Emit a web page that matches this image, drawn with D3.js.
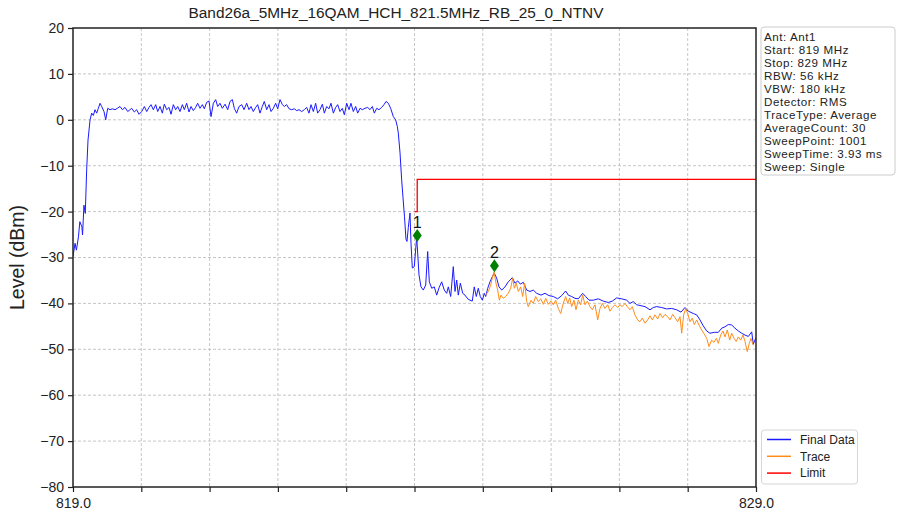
<!DOCTYPE html>
<html><head><meta charset="utf-8">
<script src="https://cdn.jsdelivr.net/npm/d3@7"></script>
<style>body{margin:0;background:#fff;}svg{display:block;font-family:"Liberation Sans",Arial,sans-serif;}</style>
</head><body>
<svg id="c" width="897" height="516"></svg>
<script>
const title = "Band26a_5MHz_16QAM_HCH_821.5MHz_RB_25_0_NTNV";
const yTicks = [20,10,0,-10,-20,-30,-40,-50,-60,-70,-80];
const xTicks = [819,820,821,822,823,824,825,826,827,828,829];
const xTickLabels = {819:"819.0", 829:"829.0"};
const infoLines = ["Ant: Ant1","Start: 819 MHz","Stop: 829 MHz","RBW: 56 kHz","VBW: 180 kHz","Detector: RMS","TraceType: Average","AverageCount: 30","SweepPoint: 1001","SweepTime: 3.93 ms","Sweep: Single"];
const seriesNames = ["Final Data","Trace","Limit"];
const seriesColors = ["#1a1aff","#ff8c1a","#ff0000"];

// Final Data: [MHz, dBm]
const finalData = [
[819.00,-29.8],[819.03,-26.9],[819.05,-28.4],[819.08,-25.5],[819.10,-22.2],[819.13,-23.3],[819.14,-25.1],[819.16,-18.6],[819.18,-20.4],[819.20,-10.9],[819.22,-4.4],[819.25,0],
[819.274,1.45],[819.298,0.94],[819.322,2.2],[819.347,1.45],[819.371,2.5],[819.396,3.6],[819.420,2.9],[819.454,1.8],[819.479,0],[819.508,2.5],[819.542,2.2],[819.576,2.4],[819.615,2.2],[819.649,2.5],[819.688,2.9],[819.723,2.2],[819.762,2.7],[819.801,1.8],[819.835,2.2],[819.859,2.5],[819.898,1.7],[819.932,2.2],[819.967,1.2],[820.006,1.8],[820.045,2.9],[820.079,1.8],[820.113,2.7],[820.142,3.3],[820.176,2.2],[820.211,3.3],[820.240,1.8],[820.274,2.9],[820.308,1.45],[820.337,3.4],[820.372,2.2],[820.406,2.7],[820.435,1.2],[820.469,3.3],[820.503,2.2],[820.533,2.9],[820.567,1.8],[820.601,3.3],[820.630,2.2],[820.664,3.6],[820.699,1.7],[820.728,2.9],[820.762,2.0],[820.796,2.7],[820.825,3.6],[820.860,2.5],[820.894,3.3],[820.923,2.4],[820.957,3.8],[820.991,4.1],[821.021,0.7],[821.055,3.6],[821.089,4.4],[821.118,2.9],[821.152,3.6],[821.187,2.5],[821.226,3.4],[821.265,2.2],[821.299,4.0],[821.333,4.4],[821.362,2.5],[821.396,1.45],[821.431,2.9],[821.470,3.3],[821.504,2.2],[821.543,3.6],[821.577,2.2],[821.606,2.9],[821.640,1.8],[821.675,2.7],[821.704,3.3],[821.738,1.45],[821.772,2.9],[821.801,4.0],[821.836,2.2],[821.870,3.3],[821.899,1.8],[821.933,2.5],[821.967,3.6],[821.997,2.4],[822.031,4.4],[822.065,3.3],[822.094,2.9],[822.128,3.3],[822.163,2.4],[822.202,2.2],[822.241,2.4],[822.275,2.0],[822.309,2.2],[822.348,1.8],[822.387,2.2],[822.421,2.7],[822.455,1.45],[822.485,3.3],[822.519,1.8],[822.553,3.6],[822.582,1.45],[822.616,2.2],[822.651,3.4],[822.680,1.45],[822.714,2.9],[822.748,2.4],[822.777,3.6],[822.812,1.45],[822.846,2.7],[822.875,3.3],[822.909,1.8],[822.943,2.5],[822.973,1.1],[823.007,3.6],[823.041,2.2],[823.070,3.6],[823.104,1.8],[823.139,2.9],[823.168,1.45],[823.202,2.5],[823.236,2.2],[823.275,2.5],[823.314,2.7],[823.348,2.2],[823.383,2.9],[823.412,1.45],[823.446,2.5],[823.480,2.2],[823.519,2.7],[823.553,3.3],[823.583,4.0],[823.617,3.6],[823.651,2.5],[823.690,0.7],[823.724,0],[823.749,-1.5],
[823.763,-2.9],[823.788,-7.2],[823.812,-13.1],[823.832,-17],[823.853,-21],[823.875,-26],[823.890,-26.5],[823.909,-23.5],[823.934,-20.3],[823.949,-27],[823.968,-32.3],[823.997,-32],[824.032,-25.5],[824.066,-33.8],[824.095,-36.4],[824.129,-37.1],[824.164,-36],[824.193,-28.7],[824.217,-35.3],[824.252,-36.7],[824.290,-36.4],[824.325,-38.2],[824.359,-36.6],[824.398,-35.3],[824.436,-37.1],[824.471,-37.8],[824.495,-36.4],[824.530,-38.5],[824.568,-32],[824.593,-37.4],[824.618,-34.9],[824.641,-38.2],[824.671,-35.6],[824.706,-37.8],[824.739,-38.2],[824.779,-39],[824.813,-39.3],[824.846,-39.5],[824.875,-36.4],[824.905,-38.5],[824.934,-36.7],[824.963,-38.5],[824.993,-39.3],[825.022,-37.8],[825.043,-38.5],[825.072,-36.7],[825.105,-35.3],[825.139,-34.2],[825.168,-33.4],[825.203,-34.5],[825.237,-36.4],[825.277,-37.1],[825.325,-36.4],[825.373,-35.3],[825.432,-34.4],[825.471,-35.6],[825.511,-35.1],[825.549,-35.8],[825.593,-35.4],[825.643,-37.1],[825.691,-37.4],[825.739,-37.1],[825.789,-37.8],[825.852,-38.2],[825.911,-37.8],[825.969,-38.3],[826.032,-38.5],[826.096,-39],[826.155,-38.3],[826.213,-37.3],[826.252,-38.2],[826.301,-38.5],[826.350,-38.9],[826.398,-39],[826.462,-37.8],[826.506,-38.5],[826.555,-39.3],[826.618,-39.3],[826.691,-39],[826.764,-39.5],[826.837,-39.8],[826.896,-39.5],[826.960,-38.8],[827.033,-39],[827.107,-39.3],[827.155,-40],[827.203,-39.6],[827.253,-40.3],[827.316,-40.5],[827.375,-40.7],[827.448,-41.4],[827.496,-40.9],[827.546,-40.7],[827.619,-40.9],[827.692,-41.2],[827.766,-41.1],[827.839,-41.4],[827.902,-41.9],[827.960,-40.9],[828.009,-41.7],[828.082,-42.2],[828.132,-42.5],[828.180,-43.6],[828.228,-44.9],[828.278,-46],[828.326,-46.5],[828.389,-46.3],[828.448,-46.3],[828.498,-45.4],[828.546,-45.1],[828.594,-44.6],[828.644,-44.7],[828.692,-45.4],[828.741,-46],[828.790,-46.5],[828.839,-46.9],[828.887,-47.2],[828.937,-46.2],[828.960,-48.9],[828.995,-47.6]
];

// Trace: [MHz, dBm]
const traceData = [
[825.043,-38.2],[825.081,-37.4],[825.116,-36],[825.139,-34.5],[825.164,-33.1],[825.193,-35.6],[825.218,-37.1],[825.242,-39.3],[825.266,-38.2],[825.300,-38.9],[825.335,-38.5],[825.373,-37.8],[825.408,-36.7],[825.438,-34.5],[825.461,-36.7],[825.490,-35.6],[825.520,-37.4],[825.555,-36.4],[825.584,-38.5],[825.613,-35.6],[825.643,-39.6],[825.666,-40.7],[825.706,-39.3],[825.739,-40],[825.774,-38.5],[825.813,-39.6],[825.848,-39],[825.886,-40.2],[825.921,-38.9],[825.959,-40.2],[825.998,-39.5],[826.032,-40.3],[826.067,-39.3],[826.105,-41.1],[826.140,-42.2],[826.178,-40],[826.213,-38.5],[826.243,-40],[826.272,-38.8],[826.301,-40.7],[826.335,-39.3],[826.364,-41.4],[826.398,-39.3],[826.433,-40.3],[826.462,-38.2],[826.496,-40.3],[826.530,-39.5],[826.569,-40.7],[826.603,-41.4],[826.643,-40.3],[826.682,-43.6],[826.716,-41.1],[826.750,-40],[826.789,-41.1],[826.829,-40.3],[826.862,-41.7],[826.896,-40.9],[826.935,-40.3],[826.975,-40.9],[827.009,-40.3],[827.042,-40.7],[827.082,-40],[827.115,-40.7],[827.155,-41.4],[827.189,-40.7],[827.228,-42.5],[827.268,-43.6],[827.301,-44],[827.335,-43.2],[827.375,-44.3],[827.414,-43.6],[827.448,-42.7],[827.482,-43.6],[827.521,-42.5],[827.561,-43.4],[827.594,-42.2],[827.634,-43.1],[827.668,-42.4],[827.707,-42.9],[827.741,-43.6],[827.780,-42.4],[827.814,-43.1],[827.853,-44],[827.887,-42.9],[827.912,-46.5],[827.941,-42.5],[827.970,-41.1],[828.000,-42.2],[828.034,-44],[828.067,-43.2],[828.097,-44.6],[828.132,-43.6],[828.165,-44.7],[828.205,-45.8],[828.243,-46.7],[828.278,-47.6],[828.312,-49.4],[828.351,-48],[828.385,-48.5],[828.419,-47.6],[828.448,-48.7],[828.483,-46.9],[828.517,-46],[828.546,-47.3],[828.580,-45.8],[828.615,-48],[828.644,-46.5],[828.678,-47.6],[828.711,-48.3],[828.741,-47.3],[828.776,-48],[828.810,-46.9],[828.839,-48.3],[828.872,-50.5],[828.902,-48.7],[828.926,-47.6],[828.960,-49.1]
];

// Limit: [MHz, dBm]
const limitData = [[824.00,-20],[824.04,-20],[824.04,-13],[829.00,-13]];

// Markers
const markerLabels = ["1","2"];
const markerFreqs = [824.04, 825.17];
const markerLevels = [-25.2, -31.8];

const svg = d3.select("#c");
const L=73, R=756, T=28, B=487;
const x = d3.scaleLinear().domain([819,829]).range([L,R]);
const y = d3.scaleLinear().domain([-80,20]).range([B,T]);

// grid
const grid = svg.append("g").attr("stroke","#b8b8b8").attr("stroke-width",0.8).attr("stroke-dasharray","3,2");
xTicks.slice(1,-1).forEach(t=>grid.append("line").attr("x1",x(t)).attr("x2",x(t)).attr("y1",T).attr("y2",B));
yTicks.slice(1,-1).forEach(t=>grid.append("line").attr("x1",L).attr("x2",R).attr("y1",y(t)).attr("y2",y(t)));

// axes
const yAxis = d3.axisLeft(y).tickValues(yTicks).tickSize(5).tickPadding(4).tickFormat(d=>d<0?"\u2212"+Math.abs(d):d);
const gy = svg.append("g").attr("transform",`translate(${L},0)`).call(yAxis);
gy.select(".domain").remove();
gy.selectAll("text").attr("font-size",14).attr("fill","#222").attr("font-family","Liberation Sans, Arial, sans-serif");
gy.selectAll("line").attr("stroke","#222").attr("stroke-width",1.2);

const xAxis = d3.axisBottom(x).tickValues(xTicks).tickSize(5).tickPadding(6).tickFormat(d=>xTickLabels[d]||"");
const gx = svg.append("g").attr("transform",`translate(0,${B})`).call(xAxis);
gx.select(".domain").remove();
gx.selectAll("text").attr("font-size",14).attr("fill","#222").attr("font-family","Liberation Sans, Arial, sans-serif");
gx.selectAll("line").attr("stroke","#222").attr("stroke-width",1.2);

// lines
const line = d3.line().x(d=>x(d[0])).y(d=>y(d[1]));
svg.append("clipPath").attr("id","pc").append("rect").attr("x",L).attr("y",T).attr("width",R-L).attr("height",B-T);
const pl = svg.append("g").attr("clip-path","url(#pc)");
pl.append("path").datum(finalData).attr("d",line).attr("fill","none").attr("stroke",seriesColors[0]).attr("stroke-width",1);
pl.append("path").datum(traceData).attr("d",line).attr("fill","none").attr("stroke",seriesColors[1]).attr("stroke-width",1);
pl.append("path").datum(limitData).attr("d",line).attr("fill","none").attr("stroke",seriesColors[2]).attr("stroke-width",1.3);

// markers
markerFreqs.forEach((f,i)=>{
  const cx=x(f), cy=y(markerLevels[i]);
  svg.append("path").attr("d",`M${cx},${cy-6.5}L${cx+4.5},${cy}L${cx},${cy+6.5}L${cx-4.5},${cy}Z`).attr("fill","#008000");
  svg.append("text").attr("x",cx).attr("y",cy-7.5).attr("text-anchor","middle").attr("font-size",16).attr("fill","#111").text(markerLabels[i]);
});

// frame
svg.append("rect").attr("x",L).attr("y",T).attr("width",R-L).attr("height",B-T).attr("fill","none").attr("stroke","#222").attr("stroke-width",1.5);

// title
svg.append("text").attr("x",396).attr("y",18).attr("text-anchor","middle").attr("font-size",15.4).attr("fill","#222").text(title);
// y label
svg.append("text").attr("transform",`translate(24,${(T+B)/2}) rotate(-90)`).attr("text-anchor","middle").attr("font-size",19.5).attr("fill","#222").text("Level (dBm)");

// info box
svg.append("rect").attr("x",761).attr("y",27).attr("width",134).attr("height",148).attr("rx",3).attr("fill","#fff").attr("stroke","#cccccc");
infoLines.forEach((s,i)=>svg.append("text").attr("x",764).attr("y",40.5+i*13).attr("font-size",11.6).attr("letter-spacing",0.55).attr("fill","#222").text(s));

// legend
svg.append("rect").attr("x",761.5).attr("y",430).attr("width",96).attr("height",54).attr("rx",3).attr("fill","#fff").attr("stroke","#d5d5d5");
seriesNames.forEach((n,i)=>{
  const ly=439.5+i*16.8;
  svg.append("line").attr("x1",767).attr("x2",791).attr("y1",ly).attr("y2",ly).attr("stroke",seriesColors[i]).attr("stroke-width",1.5);
  svg.append("text").attr("x",800).attr("y",ly+4.3).attr("font-size",12).attr("fill","#222").text(n);
});
</script>
</body></html>
